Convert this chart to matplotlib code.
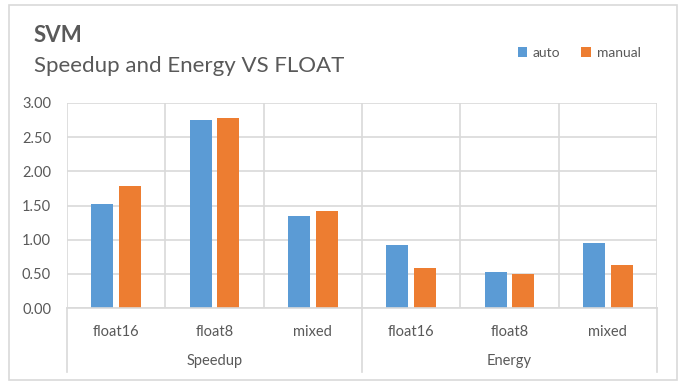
import numpy as np
import matplotlib.pyplot as plt
from matplotlib.patches import Rectangle
from matplotlib import transforms

plt.rcParams['font.family'] = ['Lato', 'DejaVu Sans']

# chart data
groups = ['Speedup', 'Energy']
categories = ['float16', 'float8', 'mixed', 'float16', 'float8', 'mixed']
auto = [1.52, 2.75, 1.34, 0.92, 0.53, 0.95]
manual = [1.78, 2.78, 1.42, 0.58, 0.50, 0.63]
yticks = [0.0, 0.5, 1.0, 1.5, 2.0, 2.5, 3.0]

blue = '#5B9BD5'
orange = '#ED7D31'
grid_c = '#D9D9D9'
text_c = '#595959'

fig = plt.figure(figsize=(6.83, 3.83), dpi=100)
fig.patches.append(Rectangle((9 / 683, 1 - 380 / 383), 668 / 683, 375 / 383,
                             transform=fig.transFigure, fill=False,
                             edgecolor=grid_c, lw=1.2))

ax = fig.add_axes([67 / 683, 1 - 308 / 383, 590 / 683, 205 / 383])
x = np.arange(len(categories))
w = 0.224
off = 0.142
ax.bar(x - off, auto, w, color=blue, label='auto', zorder=3)
ax.bar(x + off, manual, w, color=orange, label='manual', zorder=3)

ax.set_xlim(-0.5, len(categories) - 0.5)
ax.set_ylim(0, 3.0)
ax.set_yticks(yticks)
ax.set_yticklabels([f'{v:.2f}' for v in yticks], color=text_c, fontsize=10.5)
ax.tick_params(axis='y', length=0, pad=11.5)
ax.yaxis.grid(True, color=grid_c, lw=1.2, zorder=0)
ax.set_xticks(np.arange(-0.5, len(categories)), minor=True)
ax.xaxis.grid(True, which='minor', color=grid_c, lw=1.2, zorder=0)
ax.set_xticks(x)
ax.set_xticklabels(categories, color=text_c, fontsize=10.5)
ax.tick_params(axis='x', which='both', length=0, pad=12)
for s in ['top', 'right', 'left']:
    ax.spines[s].set_visible(False)
ax.spines['bottom'].set_color(grid_c)
ax.spines['bottom'].set_linewidth(1.2)
ax.spines['bottom'].set_zorder(4)

# second level of the category axis
trans = transforms.blended_transform_factory(ax.transData, ax.transAxes)
for xb in [-0.5, 2.5, 5.5]:
    ax.plot([xb, xb], [0, -64 / 205], transform=trans, color=grid_c,
            lw=1.2, clip_on=False)
for i, g in enumerate(groups):
    ax.text(3 * i + 1, -53 / 205, g, transform=trans, ha='center',
            va='center', color=text_c, fontsize=10.5)

fig.text(34 / 683, 1 - 35 / 383, 'SVM', fontsize=16, fontweight='bold',
         color=text_c, va='center')
fig.text(34 / 683, 1 - 66 / 383, 'Speedup and Energy VS FLOAT', fontsize=16,
         color=text_c, va='center')
fig.legend(loc='center left', bbox_to_anchor=(505 / 683, 1 - 53 / 383),
           ncol=2, frameon=False, fontsize=10, handlelength=0.7,
           handleheight=0.7, columnspacing=1.5, handletextpad=0.4,
           labelcolor=text_c)

fig.savefig('out.png', dpi=100)
